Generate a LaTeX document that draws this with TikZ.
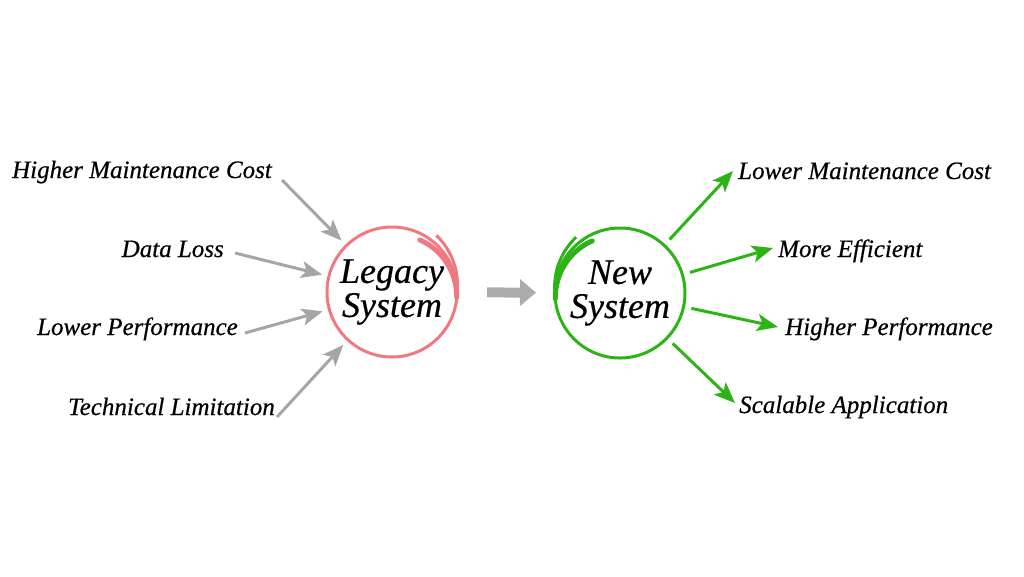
\documentclass[tikz,border=0pt]{standalone}
\usepackage{fontspec}
\setmainfont{Liberation Serif}[FakeBold=0.5]
\usetikzlibrary{arrows.meta}

\definecolor{legacypink}{RGB}{240,120,128}
\definecolor{newgreen}{RGB}{44,180,22}
\definecolor{arrowgray}{RGB}{165,165,165}
\definecolor{midgray}{RGB}{172,172,172}

\begin{document}
\begin{tikzpicture}[
    x=1pt, y=-1pt,
    issue/.style={font=\fontsize{25}{28}\selectfont\itshape, inner sep=0pt, anchor=base east},
    benefit/.style={font=\fontsize{25}{28}\selectfont\itshape, inner sep=0pt, anchor=base west},
    ring/.style={circle, draw=#1, line width=3pt, minimum size=130pt, inner sep=0pt,
        align=center, font=\fontsize{36}{34}\selectfont\itshape},
    inarrow/.style={draw=arrowgray, line width=3pt,
        -{Stealth[length=21pt, width=17pt, inset=5pt]}},
    outarrow/.style={draw=newgreen, line width=3pt,
        -{Stealth[length=21pt, width=17pt, inset=5pt]}},
    midarrow/.style={draw=midgray, line width=10pt,
        -{Triangle[length=16pt, width=26pt]}},
]
\useasboundingbox (0,0) rectangle (1024,576);

% the two systems
\node[ring=legacypink, outer sep=7pt] (legacy) at (392,292) {Legacy\\System};
\node[ring=newgreen, outer sep=8pt] (new) at (620,293) {New\\System};

% hand-drawn strokes on the rings
\draw[legacypink, line width=5pt, line cap=round, shift={(legacy.center)}]
    plot[domain=-5:62, samples=30] ({(65-(\x+5)*6/67)*cos(\x)}, {-(65-(\x+5)*6/67)*sin(\x)});
\draw[legacypink, line width=3pt, shift={(legacy.center)}]
    plot[domain=0:52, samples=20] ({(65+\x*7/52)*cos(\x)}, {-(65+\x*7/52)*sin(\x)});
\draw[newgreen, line width=5pt, line cap=round, shift={(new.center)}]
    plot[domain=118:185, samples=30] ({(59+(\x-118)*6/67)*cos(\x)}, {-(59+(\x-118)*6/67)*sin(\x)});
\draw[newgreen, line width=3pt, shift={(new.center)}]
    plot[domain=128:180, samples=20] ({(65+(180-\x)*6/52)*cos(\x)}, {-(65+(180-\x)*6/52)*sin(\x)});

\draw[midarrow, shorten <=23pt, shorten >=11pt] (legacy) -- (new);

% old problems
\node[issue] (hmc) at (272,178) {Higher Maintenance Cost};
\node[issue] (loss) at (224,257) {Data Loss};
\node[issue] (lowperf) at (238,335) {Lower Performance};
\node[issue] (techlim) at (275,415) {Technical Limitation};

% gains
\node[benefit] (lowcost) at (738,179) {Lower Maintenance Cost};
\node[benefit] (efficient) at (778,257) {More Efficient};
\node[benefit] (highperf) at (785,335) {Higher Performance};
\node[benefit] (scalable) at (739,413) {Scalable Application};

\draw[inarrow] ([shift={(10,2)}]hmc.base east) -- (legacy);
\draw[inarrow] ([shift={(11,-4)}]loss.base east) -- (legacy);
\draw[inarrow] ([shift={(7,-2)}]lowperf.base east) -- (legacy);
\draw[inarrow] ([shift={(2,2)}]techlim.base east) -- (legacy);

\draw[outarrow] (new) -- ([shift={(-5,-8)}]lowcost.base west);
\draw[outarrow] (new) -- ([shift={(-5,-9)}]efficient.base west);
\draw[outarrow] (new) -- ([shift={(-7,-8)}]highperf.base west);
\draw[outarrow] (new) -- ([shift={(-4,-10)}]scalable.base west);

\end{tikzpicture}
\end{document}
